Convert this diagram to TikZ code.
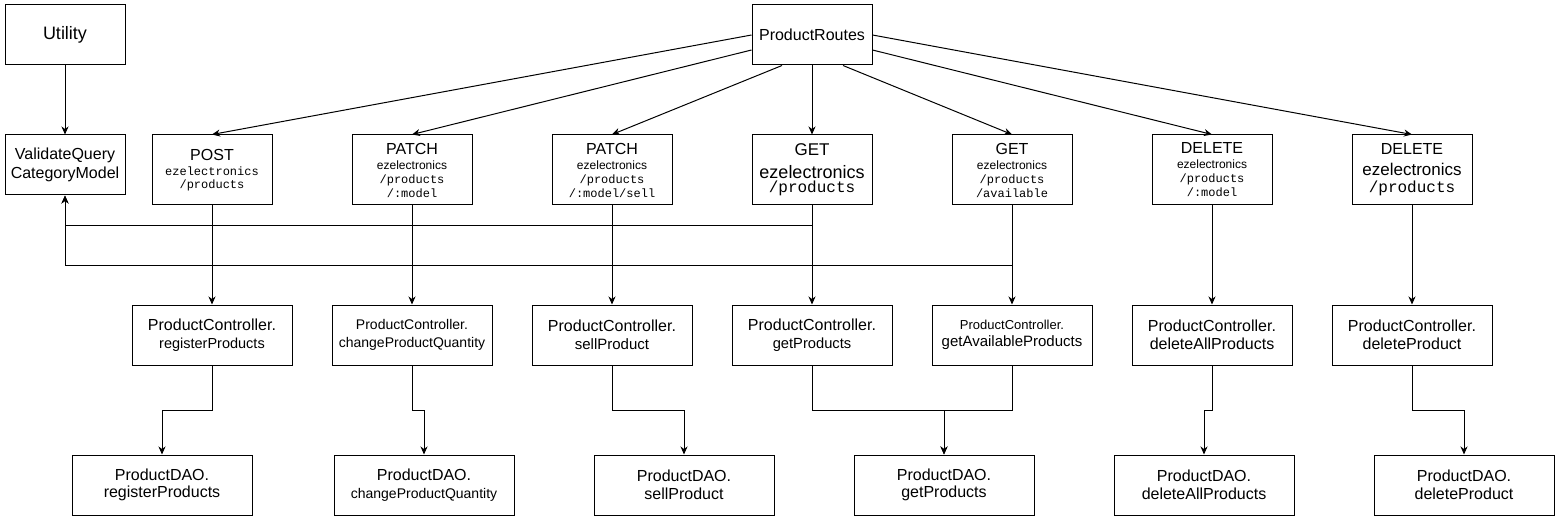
\documentclass[tikz,border=0pt]{standalone}
\usepackage{fontspec}
\setmainfont{Liberation Sans}
\setmonofont{Liberation Mono}
\usetikzlibrary{arrows.meta,calc}
\newcommand{\sfz}[1]{\rmfamily\fontsize{#1pt}{#1pt}\selectfont}
\newcommand{\tfz}[1]{\ttfamily\fontsize{#1pt}{#1pt}\selectfont}
\begin{document}
\begin{tikzpicture}[x=1pt,y=-1pt,
  box/.style={draw,line width=1pt,align=center,inner sep=0pt,fill=white},
  bskip/.style={font=\fontsize{12pt}{#1pt}\selectfont},
  rbox/.style={box,minimum width=120pt,minimum height=60pt},
  route/.style={box,minimum width=120pt,minimum height=70pt,bskip=14},
  ctrl/.style={box,minimum width=160pt,minimum height=60pt,bskip=17.5},
  dao/.style={box,minimum width=180pt,minimum height=60pt,bskip=17.5},
  arr/.style={line width=1pt,-{Stealth[length=8pt,width=7pt,inset=2.5pt]}}]
\fill[white] (0,0) rectangle (1560,521);
\useasboundingbox (0,0) rectangle (1560,521);

% top
\node[rbox] (util) at (65,35) {\sfz{18}Utility};
\node[rbox,bskip=19.5] (vq) at (65,165) {\sfz{16}ValidateQuery\\\sfz{16}CategoryModel};
\node[rbox] (pr) at (812,35) {\sfz{16}ProductRoutes};

% routes
\node[route,bskip=13] (post) at (212,170) {\sfz{16}POST\\[2pt]\tfz{12}ezelectronics\\\tfz{12}/products};
\node[route] (patcha) at (412,170) {\sfz{16}PATCH\\[1pt]\sfz{12}ezelectronics\\\tfz{12}/products\\\tfz{12}/:model};
\node[route] (patchb) at (612,170) {\sfz{16}PATCH\\[1pt]\sfz{12}ezelectronics\\\tfz{12}/products\\\tfz{12}/:model/sell};
\node[route,bskip=14] (get) at (812,170) {\sfz{17}GET\\[9pt]\sfz{18}ezelectronics\\\tfz{16}/products};
\node[route] (gav) at (1012,170) {\sfz{16}GET\\[1pt]\sfz{12}ezelectronics\\\tfz{12}/products\\\tfz{12}/available};
\node[route] (delm) at (1212,170) {\sfz{16}DELETE\\[1pt]\sfz{12}ezelectronics\\\tfz{12}/products\\\tfz{12}/:model};
\node[route,bskip=17] (del) at (1412,170) {\sfz{16}DELETE\\[4pt]\sfz{17}ezelectronics\\\tfz{16}/products};

% controllers
\node[ctrl] (ca) at (212,335) {\sfz{16}ProductController.\\\sfz{14.5}registerProducts};
\node[ctrl] (cb) at (412,335) {\sfz{14}ProductController.\\\sfz{14}changeProductQuantity};
\node[ctrl] (cc) at (612,335) {\sfz{16}ProductController.\\\sfz{15}sellProduct};
\node[ctrl] (cd) at (812,335) {\sfz{16}ProductController.\\\sfz{14.7}getProducts};
\node[ctrl] (ce) at (1012,335) {\sfz{13}ProductController.\\\sfz{15}getAvailableProducts};
\node[ctrl] (cf) at (1212,335) {\sfz{16}ProductController.\\\sfz{16}deleteAllProducts};
\node[ctrl] (cg) at (1412,335) {\sfz{16}ProductController.\\\sfz{16}deleteProduct};

% DAOs
\node[dao] (da) at (162,485) {\sfz{16}ProductDAO.\\\sfz{16}registerProducts};
\node[dao] (db) at (424,485) {\sfz{16}ProductDAO.\\\sfz{14}changeProductQuantity};
\node[dao] (dc) at (684,485) {\sfz{16}ProductDAO.\\\sfz{16}sellProduct};
\node[dao] (dd) at (944,485) {\sfz{16}ProductDAO.\\\sfz{16}getProducts};
\node[dao] (de) at (1204,485) {\sfz{16}ProductDAO.\\\sfz{16}deleteAllProducts};
\node[dao] (df) at (1464,485) {\sfz{16}ProductDAO.\\\sfz{16}deleteProduct};

% Utility -> ValidateQuery
\draw[arr] (util) -- (vq);

% ProductRoutes -> routes
\draw[arr] (pr.west) -- (post.north);
\draw[arr] ($(pr.west)+(0,15)$) -- (patcha.north);
\draw[arr] ($(pr.south)+(-30,0)$) -- (patchb.north);
\draw[arr] (pr.south) -- (get.north);
\draw[arr] ($(pr.south)+(31,0)$) -- (gav.north);
\draw[arr] ($(pr.east)+(0,15)$) -- (delm.north);
\draw[arr] (pr.east) -- (del.north);

% routes -> controllers
\foreach \ra/\cb in {post/ca,patcha/cb,patchb/cc,get/cd,gav/ce,delm/cf,del/cg}
  \draw[arr] (\ra.south) -- (\cb.north);

% GET routes -> ValidateQuery
\coordinate (jg) at ($(get.south)+(0,20)$);
\coordinate (ja) at ($(gav.south)+(0,60)$);
\draw[arr] (jg) -| (vq.south);
\draw[arr] (ja) -| (vq.south);

% controllers -> DAOs
\foreach \cc/\dd in {ca/da,cb/db,cc/dc,cd/dd,ce/dd,cf/de,cg/df}
  \draw[arr] (\cc.south) -- ++(0,45) -| (\dd.north);
\end{tikzpicture}
\end{document}
